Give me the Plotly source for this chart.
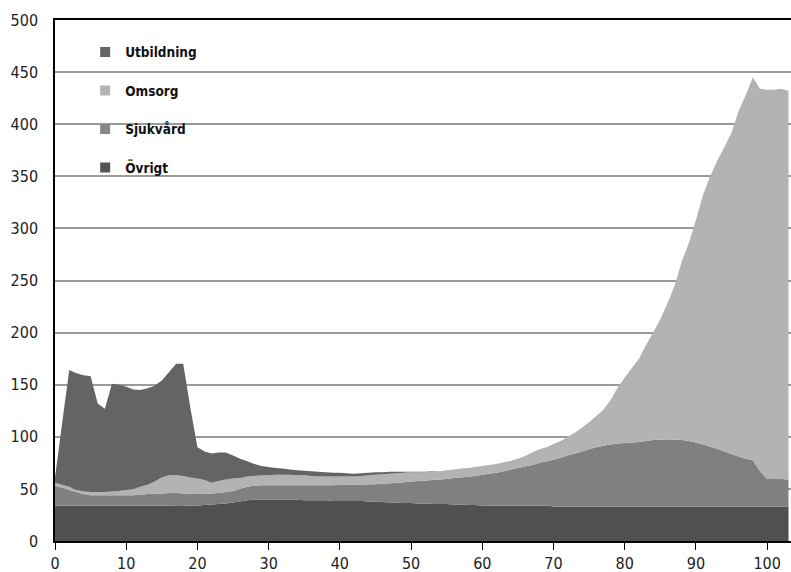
import plotly.graph_objects as go

ages = list(range(0, 104))

ovrigt = ([34] * 17 + [33.5, 33.5, 34, 34, 34.5, 35, 35.5, 36, 37, 38, 39]
          + [39.5] * 7 + [39] * 4 + [38.5] * 5 + [38, 38, 37.5, 37, 37, 36.5, 36.5,
          36, 36, 35.5, 35.5, 35.5, 35, 35, 34.5, 34.5] + [34] * 10 + [33] * 34)

sjukvard = ([19, 17, 15, 13, 11] + [10] * 7 + [10.5, 11, 11.5, 11.5, 12, 12.5, 12, 11, 11,
            10.5, 10.5, 10.5, 11, 11, 12, 13, 13.5] + [14] * 6 + [14.5] * 4 + [15]
            + [15.5] * 4 + [16.5, 16.5, 17.5, 18.5, 19, 20, 20.5, 21.5, 22, 23, 23.5, 24,
            25.5, 26, 27.5, 28, 29.5, 30.5, 31.5, 33, 34.5, 36, 37.5, 39, 41, 42.5, 45,
            47, 49, 51, 53, 55, 57, 58.5, 59.5, 60.5, 61, 61.5, 62, 63, 64, 64.5, 64.5,
            64.5, 64, 63, 61.5, 59.5, 57.5, 55.5, 53, 50.5, 48, 46, 44.5, 34, 26.5,
            26.5, 26.5, 26])

omsorg = [3, 3, 3, 2, 2.5, 3, 3, 3, 3.5, 4, 5, 6, 7.5, 9, 11.5, 15.5, 17, 17, 17, 16,
          15, 13.5, 10.5, 11.5, 12, 12, 10.5, 10, 9.5, 9.5, 9.5, 10, 10, 10, 9.5, 9.5,
          9, 8.5, 8.5, 8.5, 8, 8, 8, 8.5, 8.5, 9, 9, 9, 9, 9, 9, 8.5, 8, 8, 8, 8.5, 8,
          8.5, 8, 8.5, 8.5, 8.5, 8.5, 8.5, 8.5, 9, 10, 12, 13, 13.5, 15, 16, 18, 20,
          23, 26, 30, 34.5, 42.5, 53.5, 63, 71.5, 80, 92, 103, 115.5, 130.5, 147.5,
          171, 190, 213.5, 239.5, 259.5, 276.5, 292, 308.5, 332, 349, 367.5, 367,
          373.5, 373.5, 374.5, 373]

utbildning = ([5, 59, 112, 112, 111.5, 111, 85, 80, 103.5, 102, 99, 95.5, 93, 92.5, 92,
               93, 99, 107, 107.5, 67, 30, 27.5, 28, 27.5, 26, 22, 18.5, 14.5, 11.5, 9,
               8, 6.5, 6, 5, 5, 4.5, 4.5, 4.5, 4, 3.5, 3.5, 3, 2.5, 2.5, 2.5, 2.5, 2, 2,
               1.5, 1, 0.5, 0.5, 0.5, 0.5] + [0] * 50)

series_names = ["Övrigt", "Sjukvård", "Omsorg", "Utbildning"]
series_values = [ovrigt, sjukvard, omsorg, utbildning]
fill_colors = ["#505050", "#808080", "#b3b3b3", "#646464"]
legend_colors = ["#555555", "#888888", "#b3b3b3", "#666666"]

y_ticks = [0, 50, 100, 150, 200, 250, 300, 350, 400, 450, 500]
x_ticks = [0, 10, 20, 30, 40, 50, 60, 70, 80, 90, 100]

FONT = "DejaVu Sans Condensed, Liberation Sans Narrow, Roboto Condensed, sans-serif"

fig = go.Figure()
for name, vals, col in zip(series_names, series_values, fill_colors):
    fig.add_trace(go.Scatter(
        x=ages, y=vals, name=name, mode="none", stackgroup="one",
        fillcolor=col, line=dict(width=0), showlegend=False, hoverinfo="x+y+name"))

# legend entries (square markers), top to bottom: Utbildning, Omsorg, Sjukvård, Övrigt
for name, col in zip(series_names[::-1], legend_colors[::-1]):
    fig.add_trace(go.Scatter(
        x=[None], y=[None], name=name, mode="markers",
        marker=dict(symbol="square", size=10, color=col),
        legendgroup=name, showlegend=True))

fig.update_layout(
    width=791, height=572,
    margin=dict(l=55, r=0, t=20, b=31, autoexpand=False),
    paper_bgcolor="white", plot_bgcolor="white",
    font=dict(family=FONT, size=16, color="#222222"),
    showlegend=True,
    legend=dict(
        x=0.041, y=0.968, xanchor="left", yanchor="top",
        bgcolor="rgba(0,0,0,0)", traceorder="grouped",
        tracegroupgap=18, itemwidth=30,
        font=dict(family=FONT, size=13.5, color="#111111", weight="bold"),
    ),
    xaxis=dict(
        range=[0, 103.35], tickmode="array", tickvals=x_ticks,
        ticks="outside", ticklen=7, tickcolor="#000000", tickwidth=1,
        showline=True, linecolor="#000000", linewidth=1.5, mirror=True,
        showgrid=False, zeroline=False,
    ),
    yaxis=dict(
        range=[0, 500], tickmode="array", tickvals=y_ticks,
        showline=True, linecolor="#000000", linewidth=1.5,
        showgrid=True, gridcolor="#9a9a9a", gridwidth=1.5,
        zeroline=False, ticks="", ticklabelstandoff=12,
    ),
)

fig.write_html("out.html", config={"displayModeBar": False},
               post_script="document.body.style.margin='0';")
